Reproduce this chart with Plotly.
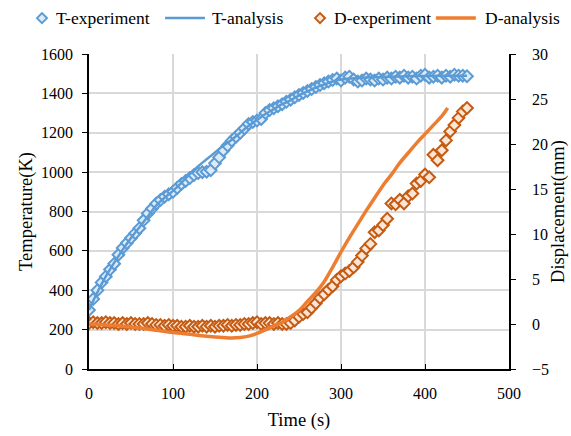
import plotly.graph_objects as go

# Measured temperature (K), sampled every 5 s
t_exp = list(range(0, 455, 5))
temp_exp = [
    300, 355, 400, 440, 470, 505, 535, 580, 615, 640,
    665, 690, 715, 755, 790, 815, 840, 858, 875, 888,
    900, 920, 940, 955, 970, 985, 995, 1000, 1002, 1010,
    1045, 1075, 1110, 1135, 1160, 1180, 1200, 1222, 1245, 1255,
    1262, 1270, 1300, 1315, 1325, 1335, 1345, 1357, 1368, 1380,
    1392, 1402, 1412, 1422, 1432, 1442, 1452, 1460, 1468, 1475,
    1465, 1480, 1485, 1470, 1460, 1465, 1475, 1470, 1465, 1475,
    1470, 1480, 1475, 1485, 1480, 1490, 1480, 1485, 1475, 1490,
    1495, 1480, 1485, 1490, 1480, 1490, 1485, 1495, 1490, 1490,
    1487,
]

# Measured displacement (mm), sampled every 5 s
disp_exp = [
    0.1, 0.2, 0.1, 0.1, 0.2, 0.1, 0.1, 0.0, 0.1, 0.0,
    0.1, 0.0, 0.0, 0.0, 0.1, 0.0, -0.1, -0.1, -0.2, -0.1,
    -0.2, -0.2, -0.3, -0.3, -0.2, -0.3, -0.3, -0.2, -0.3, -0.2,
    -0.3, -0.2, -0.2, -0.1, -0.2, -0.1, -0.1, 0.0, 0.0, 0.1,
    0.2, 0.0, 0.1, 0.1, 0.0, 0.1, 0.0, 0.0, 0.1, 0.4,
    0.8, 1.1, 1.3, 1.8, 2.3, 2.9, 3.3, 3.8, 4.2, 4.9,
    5.3, 5.6, 5.9, 6.3, 6.9, 7.6, 8.4, 8.9, 10.2, 10.4,
    11.0, 11.7, 13.4, 13.3, 13.8, 13.4, 14.2, 14.5, 15.6, 15.9,
    16.6, 16.3, 18.8, 18.2, 19.3, 20.4, 21.4, 22.1, 22.9, 23.6,
    24.0,
]

# Model results
t_ana_T = [0, 10, 20, 30, 40, 50, 60, 70, 80, 90, 100, 110, 120, 130, 140,
           150, 160, 170, 180, 190, 200, 210, 220, 230, 240, 250, 260, 270,
           280, 290, 300, 320, 340, 360, 380, 400, 420, 450]
temp_ana = [300, 390, 470, 540, 605, 665, 720, 775, 830, 870, 905, 945, 990,
            1030, 1065, 1100, 1135, 1165, 1200, 1235, 1265, 1295, 1320, 1345,
            1365, 1390, 1410, 1430, 1445, 1460, 1470, 1478, 1482, 1485, 1487,
            1488, 1489, 1490]

t_ana_D = [0, 20, 40, 60, 80, 100, 120, 140, 160, 170, 180, 190, 200, 210,
           220, 230, 240, 250, 260, 270, 280, 290, 300, 310, 320, 330, 340,
           350, 360, 370, 380, 390, 400, 410, 420, 427]
disp_ana = [0.0, -0.1, -0.25, -0.45, -0.7, -0.95, -1.15, -1.35, -1.5, -1.55,
            -1.5, -1.35, -1.05, -0.65, -0.2, 0.2, 0.8, 1.5, 2.5, 3.5, 4.7,
            6.3, 8.0, 9.6, 11.1, 12.6, 14.0, 15.4, 16.6, 17.9, 19.0, 20.1,
            21.1, 22.1, 23.1, 24.0]

BLUE = "#5b9bd5"
BLUE_FILL = "#deebf7"
ORANGE = "#ed7d31"
ORANGE_EDGE = "#c55a11"
ORANGE_FILL = "#fbe5d6"
FONT = "Liberation Serif, Times New Roman, serif"
TITLE_FONT = dict(family=FONT, size=18.5, color="black")
LEGEND_FONT = dict(family=FONT, size=17.5, color="black")
TICK_FONT = dict(family=FONT, size=16, color="black")

fig = go.Figure()
fig.add_trace(go.Scatter(
    x=t_exp, y=temp_exp, mode="markers", name="T-experiment",
    marker=dict(symbol="diamond", size=9, color=BLUE_FILL,
                line=dict(color=BLUE, width=2)),
))
fig.add_trace(go.Scatter(
    x=t_ana_T, y=temp_ana, mode="lines", name="T-analysis",
    line=dict(color=BLUE, width=2.5, shape="spline"),
))
fig.add_trace(go.Scatter(
    x=t_exp, y=disp_exp, mode="markers", name="D-experiment", yaxis="y2",
    marker=dict(symbol="diamond", size=9, color=ORANGE_FILL,
                line=dict(color=ORANGE_EDGE, width=2)),
))
fig.add_trace(go.Scatter(
    x=t_ana_D, y=disp_ana, mode="lines", name="D-analysis", yaxis="y2",
    line=dict(color=ORANGE, width=3.5, shape="spline"),
))

# Key row above the plot: swatch + label for each series (paper coordinates)
KEY_Y = 1.114
DIAMOND = "M -5 0 L 0 5 L 5 0 L 0 -5 Z"
shapes = []
annotations = []
key_items = [
    # (kind, swatch x (paper), swatch end, label x, edge, fill, width, label)
    ("marker", -0.112, None, -0.082, BLUE, BLUE_FILL, 2, "T-experiment"),
    ("line", 0.181, 0.276, 0.290, BLUE, None, 2.5, "T-analysis"),
    ("marker", 0.550, None, 0.580, ORANGE_EDGE, ORANGE_FILL, 2, "D-experiment"),
    ("line", 0.826, 0.921, 0.940, ORANGE, None, 3.5, "D-analysis"),
]
for kind, x0, x1, xl, edge, fill, w, label in key_items:
    if kind == "marker":
        shapes.append(dict(type="path", xref="paper", yref="paper",
                           xsizemode="pixel", ysizemode="pixel",
                           xanchor=x0, yanchor=KEY_Y, path=DIAMOND,
                           fillcolor=fill, line=dict(color=edge, width=w)))
    else:
        shapes.append(dict(type="line", xref="paper", yref="paper",
                           x0=x0, x1=x1, y0=KEY_Y, y1=KEY_Y,
                           line=dict(color=edge, width=w)))
    annotations.append(dict(text=label, xref="paper", yref="paper",
                            x=xl, y=KEY_Y, xanchor="left", yanchor="middle",
                            showarrow=False, font=LEGEND_FONT, borderpad=0))

fig.update_layout(
    width=571, height=436,
    margin=dict(l=89, r=62, t=54, b=67, autoexpand=False),
    paper_bgcolor="white", plot_bgcolor="white",
    font=dict(family=FONT, size=17, color="black"),
    showlegend=False,
    shapes=shapes,
    annotations=annotations,
    xaxis=dict(
        range=[0, 500], dtick=100, tick0=0,
        showgrid=True, gridcolor="#d9d9d9", gridwidth=1.5,
        showline=True, linecolor="black", linewidth=1.5,
        ticks="inside", ticklen=5, tickcolor="black",
        tickfont=TICK_FONT, ticklabelstandoff=9,
        zeroline=False,
        title=dict(text="Time (s)", standoff=12, font=TITLE_FONT),
    ),
    yaxis=dict(
        range=[0, 1600], dtick=200,
        showgrid=True, gridcolor="#d9d9d9", gridwidth=1.5,
        showline=True, linecolor="black", linewidth=1.5,
        ticks="outside", ticklen=5, tickcolor="black",
        tickfont=TICK_FONT, ticklabelstandoff=6,
        zeroline=False,
        title=dict(text="Temperature(K)", standoff=4, font=TITLE_FONT),
    ),
    yaxis2=dict(
        range=[-5, 30], dtick=5, overlaying="y", side="right",
        showgrid=False,
        showline=True, linecolor="black", linewidth=1.5,
        ticks="outside", ticklen=5, tickcolor="black",
        tickfont=TICK_FONT, ticklabelstandoff=13,
        zeroline=False,
        title=dict(text="Displacement(mm)", standoff=2, font=TITLE_FONT),
    ),
)

fig.write_html("out.html")
